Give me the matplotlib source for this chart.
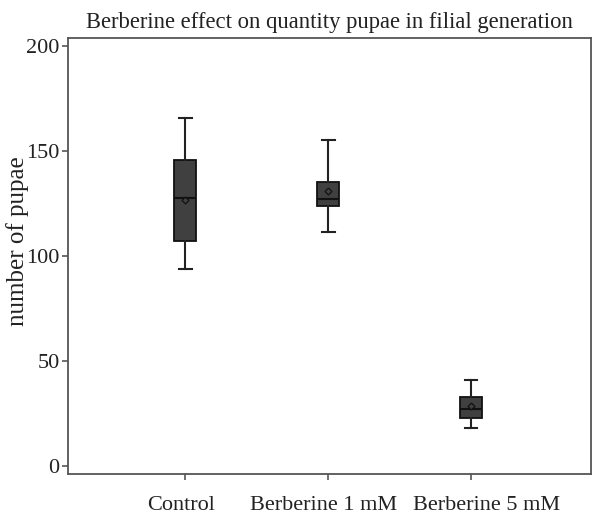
import matplotlib
matplotlib.use("Agg")
import matplotlib.pyplot as plt
from matplotlib.transforms import ScaledTranslation

categories = ["Control", "Berberine 1 mM", "Berberine 5 mM"]
whisker_low = [94, 111.5, 18]
q1 = [107, 124, 23]
median = [127.5, 127, 27]
q3 = [145.7, 135, 33]
whisker_high = [165.7, 155.2, 41]
mean = [126.5, 131, 28.6]

plt.rcParams['font.family'] = ['Liberation Serif', 'DejaVu Serif']

fig = plt.figure(figsize=(6.0, 5.19), dpi=100)
ax = fig.add_axes([68/600, 45/519, (591-68)/600, (474-38)/519])

stats = []
for i, c in enumerate(categories):
    stats.append(dict(label=c, whislo=whisker_low[i], q1=q1[i], med=median[i],
                      q3=q3[i], whishi=whisker_high[i], mean=mean[i], fliers=[]))

positions = [1, 2, 3]
ax.bxp(stats, positions=positions, widths=0.15, showmeans=True, patch_artist=True,
       boxprops=dict(facecolor='#404040', edgecolor='#111111', linewidth=1.3),
       medianprops=dict(color='#111111', linewidth=1.5),
       whiskerprops=dict(color='#222222', linewidth=1.5),
       capprops=dict(color='#222222', linewidth=1.5),
       capwidths=0.09,
       meanprops=dict(marker='D', markersize=3.5, markerfacecolor='#404040',
                      markeredgecolor='#111111', markeredgewidth=0.9))

ax.set_xlim(0.18, 3.84)
ax.set_ylim(-3.8, 203.8)
ax.set_yticks([0, 50, 100, 150, 200])
ax.set_xticks(positions)
ax.set_xticklabels(categories)
for s in ax.spines.values():
    s.set_color('#555555')
    s.set_linewidth(1.3)
ax.tick_params(axis='both', colors='#555555', labelcolor='#222222', labelsize=16,
               length=4, width=1.2)
ax.tick_params(axis='y', pad=2)
ax.tick_params(axis='x', pad=12)

# individual horizontal label offsets (points) as in the reference
offsets = [-3, -3, 11.5]
for lbl, dx in zip(ax.get_xticklabels(), offsets):
    lbl.set_transform(lbl.get_transform() + ScaledTranslation(dx / 72, 0, fig.dpi_scale_trans))

ax.set_ylabel('number of pupae', fontsize=18, color='#222222')
ax.yaxis.set_label_coords(-0.075, 0.534)
ax.set_title('Berberine effect on quantity pupae in filial generation', fontsize=16.3,
             color='#222222', pad=7)

fig.savefig('out.png', dpi=100)
